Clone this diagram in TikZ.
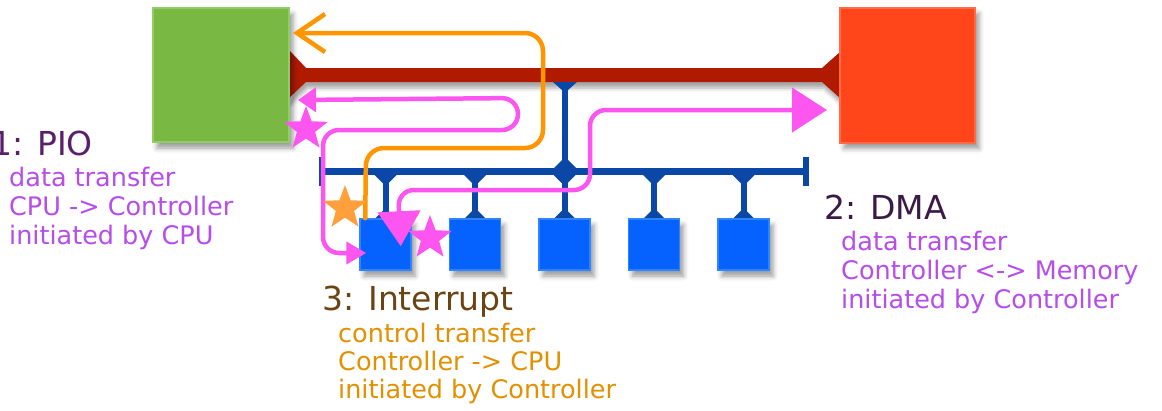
\documentclass[tikz,border=0pt]{standalone}
\usepackage{fontspec}
\setmainfont{DejaVu Sans}
\usetikzlibrary{arrows.meta,shapes.geometric,shadows.blur,calc}
\definecolor{cpugreen}{HTML}{79B943}
\definecolor{cpuedge}{HTML}{93CB66}
\definecolor{memred}{HTML}{FF4519}
\definecolor{memedge}{HTML}{FF6B47}
\definecolor{busred}{HTML}{B01B00}
\definecolor{busblue}{HTML}{0A47A6}
\definecolor{ctlblue}{HTML}{0562FF}
\definecolor{ctledge}{HTML}{2E84FF}
\definecolor{penpink}{HTML}{FC55F0}
\definecolor{penorange}{HTML}{FF9500}
\definecolor{starorange}{HTML}{FFA03C}
\definecolor{titlepurple}{HTML}{5A1E6A}
\definecolor{titledma}{HTML}{3B1A47}
\definecolor{bodypurple}{HTML}{B64CEA}
\definecolor{titlebrown}{HTML}{6B4414}
\definecolor{bodyorange}{HTML}{E39000}
\tikzset{
  boxshadow/.style={blur shadow={shadow xshift=4pt, shadow yshift=-6pt, shadow blur radius=5pt, shadow opacity=40}},
  cpubox/.style={rectangle, fill=cpugreen, draw=cpuedge, line width=2pt, minimum width=136pt, minimum height=134pt, inner sep=0pt, boxshadow},
  membox/.style={rectangle, fill=memred, draw=memedge, line width=2pt, minimum width=135pt, minimum height=135pt, inner sep=0pt, boxshadow},
  ctlbox/.style={rectangle, fill=ctlblue, draw=ctledge, line width=1.5pt, minimum width=51pt, minimum height=51pt, inner sep=0pt, boxshadow},
  pinkpen/.style={draw=penpink, line width=4.5pt, rounded corners=16pt, line cap=round, line join=round},
  orangepen/.style={draw=penorange, line width=4.5pt, rounded corners=18pt, line cap=round, line join=round},
  starmark/.style={star, star points=5, star point ratio=2.4, minimum size=46pt, inner sep=0pt},
  title/.style={anchor=base west, inner sep=0pt, font=\fontsize{33}{40}\selectfont},
  body/.style={anchor=base west, inner sep=0pt, font=\fontsize{25.5}{30}\selectfont},
}
\begin{document}
\begin{tikzpicture}[x=1pt,y=-1pt]
\useasboundingbox (0,0) rectangle (1162,410);
% red memory bus
\fill[busred, blur shadow={shadow xshift=2pt, shadow yshift=-6pt, shadow blur radius=4pt, shadow opacity=35}]
  (289,50) -- (306,68) -- (822,68) -- (840,52) -- (840,98) -- (822,82) -- (306,82) -- (289,98) -- cycle;
% blue I/O bus
\fill[busblue] (322,168) rectangle (806,175);
\fill[busblue] (319,157) rectangle (325,186);
\fill[busblue] (803,157) rectangle (809,186);
\fill[busblue] (562,82) rectangle (568,175);
\fill[busblue] (553,82) -- (577,82) -- (568,90) -- (562,90) -- cycle;
\fill[busblue] (562,160) -- (568,160) -- (576,168) -- (554,168) -- cycle;
\foreach \x in {385.5,475,564.5,654,743.5} {
  \fill[busblue] (\x-11,175) -- (\x+11,175) -- (\x+3,183) -- (\x-3,183) -- cycle;
  \fill[busblue] (\x-3,182) rectangle (\x+3,212);
  \fill[busblue] (\x-3,211) -- (\x+3,211) -- (\x+11,219) -- (\x-11,219) -- cycle;
}
% boxes
\node[cpubox] (cpu) at (221,75) {};
\node[membox] (mem) at (907.5,75) {};
\node[ctlbox] (c1) at (385.5,244.5) {};
\node[ctlbox] (c2) at (475,244.5) {};
\node[ctlbox] (c3) at (564.5,244.5) {};
\node[ctlbox] (c4) at (654,244.5) {};
\node[ctlbox] (c5) at (743.5,244.5) {};
% interrupt (orange)
\draw[orangepen, -{Straight Barb[length=28pt, width=38pt, line width=4.5pt]}]
  ($(c1.north west)+(6,0)$) -- (366,148) -- (543,148) -- (543,33) -- ($(cpu.east)+(3,-42)$);
% PIO (pink)
\draw[pinkpen, {Triangle[length=18pt, width=24pt]}-{Triangle[length=20pt, width=22pt]}]
  ($(cpu.east)+(8,25)$) -- (518,98) -- (518,130) -- (323,130) -- (323,253) -- ($(c1.west)+(7,8.5)$);
% DMA (pink)
\draw[pinkpen, {Triangle[length=35pt, width=42pt]}-{Triangle[length=35pt, width=44pt]}]
  ($(c1.north east)+(-11,28)$) -- (398,190) -- (590,190) -- (590,110) -- ($(mem.west)+(-12,35)$);
% stars
\node[starmark, fill=penpink] (s1) at (306,129) {};
\node[starmark, fill=penpink] (s2) at (430,238) {};
\node[starmark, fill=starorange] (s3) at (345,208) {};
% texts
\node[title, text=titlepurple] (pio) at (-9,155) {1: PIO};
\node[body, text=bodypurple] (pio1) at (9,186) {data transfer};
\node[body, text=bodypurple] (pio2) at (9,215) {CPU -> Controller};
\node[body, text=bodypurple] (pio3) at (9,244) {initiated by CPU};
\node[title, text=titledma] (dma) at (824,219) {2: DMA};
\node[body, text=bodypurple] (dma1) at (841,250) {data transfer};
\node[body, text=bodypurple] (dma2) at (841,279) {Controller <-> Memory};
\node[body, text=bodypurple] (dma3) at (841,308) {initiated by Controller};
\node[title, text=titlebrown] (irq) at (322,310) {3: Interrupt};
\node[body, text=bodyorange] (irq1) at (338,342) {control transfer};
\node[body, text=bodyorange] (irq2) at (338,370) {Controller -> CPU};
\node[body, text=bodyorange] (irq3) at (338,398) {initiated by Controller};
\end{tikzpicture}
\end{document}
